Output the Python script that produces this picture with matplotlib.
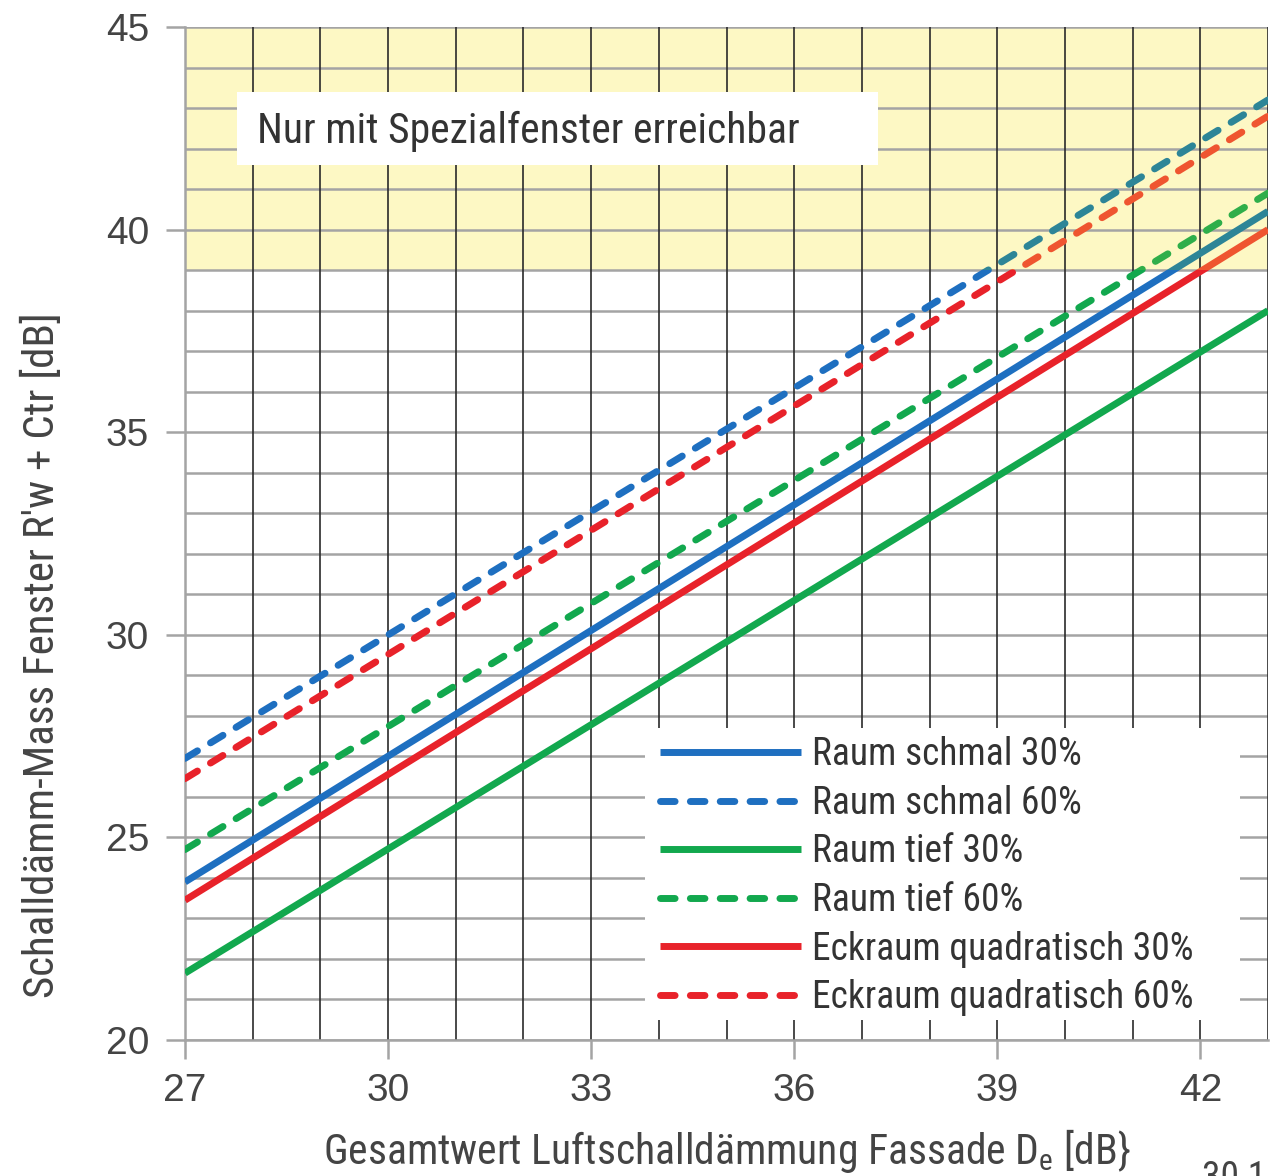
import matplotlib
matplotlib.use("Agg")
import matplotlib.pyplot as plt
from matplotlib.patches import Rectangle
import matplotlib.font_manager as fm

# ---- data ----
x_ends = [27, 43]
series_labels = ["Raum schmal 30%", "Raum schmal 60%", "Raum tief 30%",
                 "Raum tief 60%", "Eckraum quadratisch 30%", "Eckraum quadratisch 60%"]
schmal_30 = [23.9, 40.45]
schmal_60 = [26.95, 43.2]
tief_30 = [21.65, 38.0]
tief_60 = [24.7, 40.9]
eck_30 = [23.45, 40.0]
eck_60 = [26.45, 42.8]
series_values = [schmal_30, schmal_60, tief_30, tief_60, eck_30, eck_60]
x_ticks = [27, 30, 33, 36, 39, 42]
y_ticks = [20, 25, 30, 35, 40, 45]
special_from = 39

names = {f.name for f in fm.fontManager.ttflist}
cond = [f for f in ["Roboto Condensed", "Liberation Sans Narrow", "Roboto", "DejaVu Sans"] if f in names]
tickfont = [f for f in ["Liberation Sans", "DejaVu Sans"] if f in names]

blue, green, red = "#1e6fc0", "#12a84e", "#e8222a"
colors = [blue, blue, green, green, red, red]
colors_yel = ["#2d8597", "#2d8597", "#2fae4a", "#2fae4a", "#ef5530", "#ef5530"]
styles = ["-", "--", "-", "--", "-", "--"]

W, H = 1274, 1176
fig = plt.figure(figsize=(W / 100, H / 100), dpi=100)
ax = fig.add_axes([185/W, 136/H, 1083/W, 1013/H])
ax.set_xlim(27, 43)
ax.set_ylim(20, 45)

def px2data(px, py):
    return 27 + (px - 185) / 1083 * 16, 45 - (py - 27) / 1013 * 25

# special window zone
ax.add_patch(Rectangle((27, special_from), 16, 45 - special_from, facecolor="#fdf8c4",
                       edgecolor="none", zorder=0))

# grid
for yv in range(20, 46):
    ax.axhline(yv, color="#a4a4a4", lw=1.8, zorder=1)
for xv in range(27, 44):
    ax.axvline(xv, color="#2a2a2a", lw=1.2, zorder=1)

# white label box
bx0, by0 = px2data(237, 165)
bx1, by1 = px2data(878, 92)
ax.add_patch(Rectangle((bx0, by0), bx1 - bx0, by1 - by0, facecolor="white",
                       edgecolor="none", zorder=3))
tx, ty = px2data(257, 131)
ax.text(tx, ty, "Nur mit Spezialfenster erreichbar", fontsize=30, family=cond,
        color="#333333", va="center", ha="left", zorder=3.5)

# legend background box
lx0, ly0 = px2data(645, 1020)
lx1, ly1 = px2data(1240, 728)
ax.add_patch(Rectangle((lx0, ly0), lx1 - lx0, ly1 - ly0, facecolor="white",
                       edgecolor="none", zorder=3))

handles = []
clip_low = Rectangle((27, 20), 16, special_from - 20, transform=ax.transData)
clip_high = Rectangle((27, special_from), 16, 45 - special_from, transform=ax.transData)
for vals, c, cy, ls, lab in zip(series_values, colors, colors_yel, styles, series_labels):
    kw = dict(zorder=4, solid_capstyle="butt", dash_capstyle="round", lw=5.0)
    if ls == "--":
        kw["dashes"] = (2.1, 2.2)
    l1, = ax.plot(x_ends, vals, color=c, label=lab, **kw)
    l1.set_clip_path(clip_low)
    l2, = ax.plot(x_ends, vals, color=cy, **kw)
    l2.set_clip_path(clip_high)
    handles.append(l1)

leg = ax.legend(handles=handles, loc="upper left",
                bbox_to_anchor=((660 - 185) / 1083, 1 - (736 - 27) / 1013),
                bbox_transform=ax.transAxes, frameon=False,
                prop=fm.FontProperties(family=cond, size=27), labelcolor="#333333",
                handlelength=3.75, handletextpad=0.3, labelspacing=0.31,
                borderpad=0, borderaxespad=0)
leg.set_zorder(5)

# spines & ticks
for s in ["top", "right"]:
    ax.spines[s].set_visible(False)
for s in ["left", "bottom"]:
    ax.spines[s].set_color("#a4a4a4")
    ax.spines[s].set_linewidth(1.8)
ax.set_xticks(x_ticks)
ax.set_yticks(y_ticks)
ax.tick_params(axis="both", length=14, width=1.8, color="#a4a4a4",
               labelsize=28, labelcolor="#444444")
ax.tick_params(axis="y", pad=12)
ax.tick_params(axis="x", pad=10)
for lab in ax.get_xticklabels() + ax.get_yticklabels():
    lab.set_family(tickfont)

ax.set_ylabel("Schalldämm-Mass Fenster R'w + Ctr [dB]", fontsize=31, family=cond,
              color="#444444")
ax.yaxis.label.set_va("center")
ax.yaxis.set_label_coords((42 - 185) / 1083, 1 - (655 - 27) / 1013)
ax.set_xlabel("Gesamtwert Luftschalldämmung Fassade D$_\\mathregular{e}$ [dB}", fontsize=30,
              family=cond, color="#444444")
ax.xaxis.label.set_va("center")
ax.xaxis.set_label_coords(0.5, -(1151 - 1040) / 1013)

fig.text(1202 / W, 16 / H, "30 1", fontsize=27, family=cond,
         color="#444444", va="top", ha="left")

fig.savefig("out.png", dpi=100, facecolor="white")
